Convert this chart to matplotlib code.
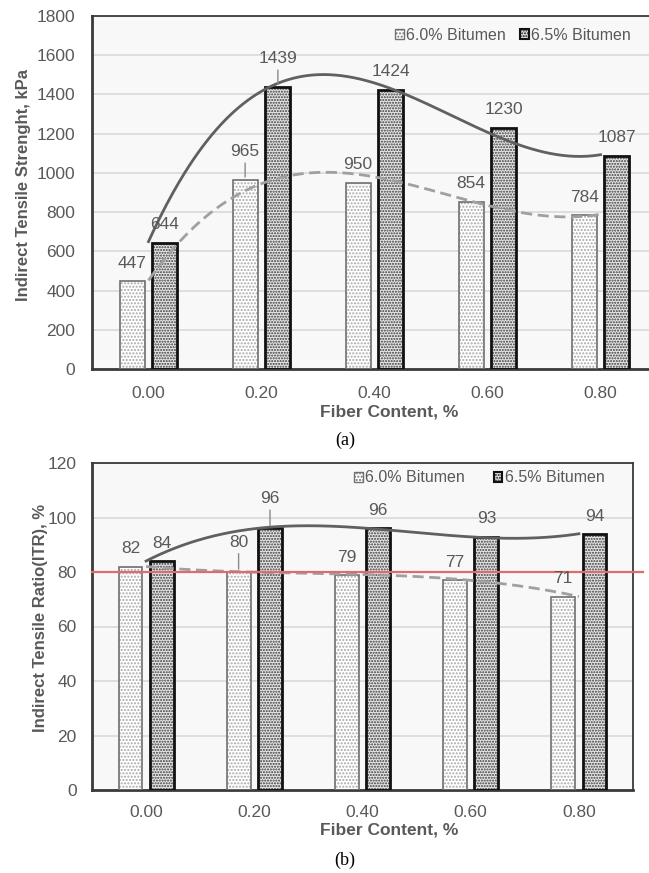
import numpy as np
import matplotlib
matplotlib.use('Agg')
import matplotlib.pyplot as plt
from matplotlib.patches import Patch

plt.rcParams['font.family'] = ['Liberation Sans', 'DejaVu Sans']
plt.rcParams['hatch.linewidth'] = 1.0

# ---------------- data ----------------
categories = ['0.00', '0.20', '0.40', '0.60', '0.80']
series_names = ['6.0% Bitumen', '6.5% Bitumen']
its_60 = [447, 965, 950, 854, 784]
its_65 = [644, 1439, 1424, 1230, 1087]
itr_60 = [82, 80, 79, 77, 71]
itr_65 = [84, 96, 96, 93, 94]
itr_limit = 80

TXT = '#595959'
GRID = '#d9d9d9'
SPINE = '#3a3a3a'
LIGHT_HATCH = '.....'
DARK_HATCH = '......'

fig = plt.figure(figsize=(6.49, 8.73), dpi=100)
W, H = 649, 873


def px_axes(l, t, r, b):
    return fig.add_axes([l / W, 1 - b / H, (r - l) / W, (b - t) / H])


def draw_bars(ax, v1, v2):
    x = np.arange(len(categories))
    w = 0.22
    off = 0.145
    ax.bar(x - off, v1, w, color='white', edgecolor='#a8a8a8', hatch=LIGHT_HATCH, lw=0, zorder=2)
    ax.bar(x - off, v1, w, fill=False, edgecolor='#707070', lw=1.2, zorder=3)
    ax.bar(x + off, v2, w, color='#e6e6e6', edgecolor='#3a3a3a', hatch=DARK_HATCH, lw=0, zorder=2)
    ax.bar(x + off, v2, w, fill=False, edgecolor='#111111', lw=2.0, zorder=3)
    return x, off


def trend(ax, v, **kw):
    # polynomial (order 3) trend line, as in the source spreadsheet chart
    xs = np.arange(len(v))
    c = np.polyfit(xs, v, 3)
    xx = np.linspace(0, len(v) - 1, 300)
    ax.plot(xx, np.polyval(c, xx), zorder=4, **kw)


def style(ax, ymax, step, padl, padx):
    ax.set_facecolor('#f8f8f8')
    ax.set_xlim(-0.5, 4.5)
    ax.set_ylim(0, ymax)
    ax.set_yticks(np.arange(0, ymax + step / 2, step))
    ax.set_xticks(np.arange(len(categories)))
    ax.set_xticklabels(categories)
    ax.yaxis.grid(True, color=GRID, lw=1.2, zorder=0)
    ax.set_axisbelow(True)
    ax.tick_params(axis='both', length=0, labelsize=12.5, colors=TXT)
    ax.tick_params(axis='y', pad=padl)
    ax.tick_params(axis='x', pad=padx)
    for s in ['left', 'bottom']:
        ax.spines[s].set_color(SPINE)
        ax.spines[s].set_linewidth(2.0)
    for s in ['top', 'right']:
        ax.spines[s].set_color(SPINE)
        ax.spines[s].set_linewidth(1.3)


def legend(ax, anchor, colsp):
    h1 = Patch(facecolor='white', edgecolor='#707070', hatch=LIGHT_HATCH, lw=1.0)
    h2 = Patch(facecolor='#e6e6e6', edgecolor='#111111', hatch=DARK_HATCH, lw=1.5)
    ax.legend([h1, h2], series_names, loc='center left', bbox_to_anchor=anchor,
              ncol=2, frameon=False, fontsize=11.5, labelcolor=TXT,
              handlelength=0.55, handleheight=0.55, handletextpad=0.15,
              columnspacing=colsp, borderaxespad=0, borderpad=0)


def labels(ax, x, off, v1, v2, d, lead1, lead2, dlead):
    for i, (a, b) in enumerate(zip(v1, v2)):
        for xv, val, lead in ((x[i] - off, a, lead1), (x[i] + off, b, lead2)):
            if i in lead:
                ax.annotate(str(val), xy=(xv, val), xytext=(xv, val + dlead),
                            ha='center', va='center', fontsize=12.5, color=TXT,
                            arrowprops=dict(arrowstyle='-', color='#8a8a8a', lw=1.0,
                                            shrinkA=1, shrinkB=2), zorder=6)
            else:
                ax.text(xv, val + d, str(val), ha='center', va='center',
                        fontsize=12.5, color=TXT, zorder=6)


# ---------------- (a) ----------------
ax1 = px_axes(92, 16, 657, 369)
style(ax1, 1800, 200, 12, 12)
x, off = draw_bars(ax1, its_60, its_65)
trend(ax1, its_60, color='#a0a0a0', lw=2.0, ls=(0, (4, 2)))
trend(ax1, its_65, color='#606060', lw=2.0)
labels(ax1, x, off, its_60, its_65, 92, [1], [1], 145)
ax1.set_ylabel('Indirect Tensile Strenght, kPa', fontsize=12, fontweight='bold', color=TXT)
ax1.yaxis.set_label_coords((23 - 92) / 565, (369 - 185) / 353)
ax1.yaxis.label.set_va('center')
ax1.set_xlabel('Fiber Content, %', fontsize=12.5, fontweight='bold', color=TXT)
ax1.xaxis.set_label_coords((389 - 92) / 565, (369 - 412) / 353)
ax1.xaxis.label.set_va('center')
legend(ax1, ((395 - 92) / 565, (369 - 35) / 353), 0.9)

# ---------------- (b) ----------------
ax2 = px_axes(92, 463, 633, 790)
style(ax2, 120, 20, 11, 11)
x, off = draw_bars(ax2, itr_60, itr_65)
trend(ax2, itr_60, color='#a0a0a0', lw=2.0, ls=(0, (4, 2)))
trend(ax2, itr_65, color='#606060', lw=2.0)
ax2.plot([0, 1.018], [itr_limit, itr_limit], transform=ax2.get_yaxis_transform(),
         color='#e26a6a', lw=1.6, zorder=5, clip_on=False)
labels(ax2, x, off, itr_60, itr_65, 6.5, [1], [1], 11)
ax2.set_ylabel('Indirect Tensile Ratio(ITR), %', fontsize=12, fontweight='bold', color=TXT)
ax2.yaxis.set_label_coords((41 - 92) / 541, (790 - 618) / 327)
ax2.yaxis.label.set_va('center')
ax2.set_xlabel('Fiber Content, %', fontsize=12.5, fontweight='bold', color=TXT)
ax2.xaxis.set_label_coords((389 - 92) / 541, (790 - 830) / 327)
ax2.xaxis.label.set_va('center')
legend(ax2, ((354 - 92) / 541, (790 - 478) / 327), 1.8)

fig.text(345 / W, 1 - 440 / H, '(a)', ha='center', va='center', fontsize=13,
         family=['Liberation Serif', 'DejaVu Serif'], color='black')
fig.text(345 / W, 1 - 860 / H, '(b)', ha='center', va='center', fontsize=13,
         family=['Liberation Serif', 'DejaVu Serif'], color='black')

fig.savefig('out.png', dpi=100, facecolor='white')
